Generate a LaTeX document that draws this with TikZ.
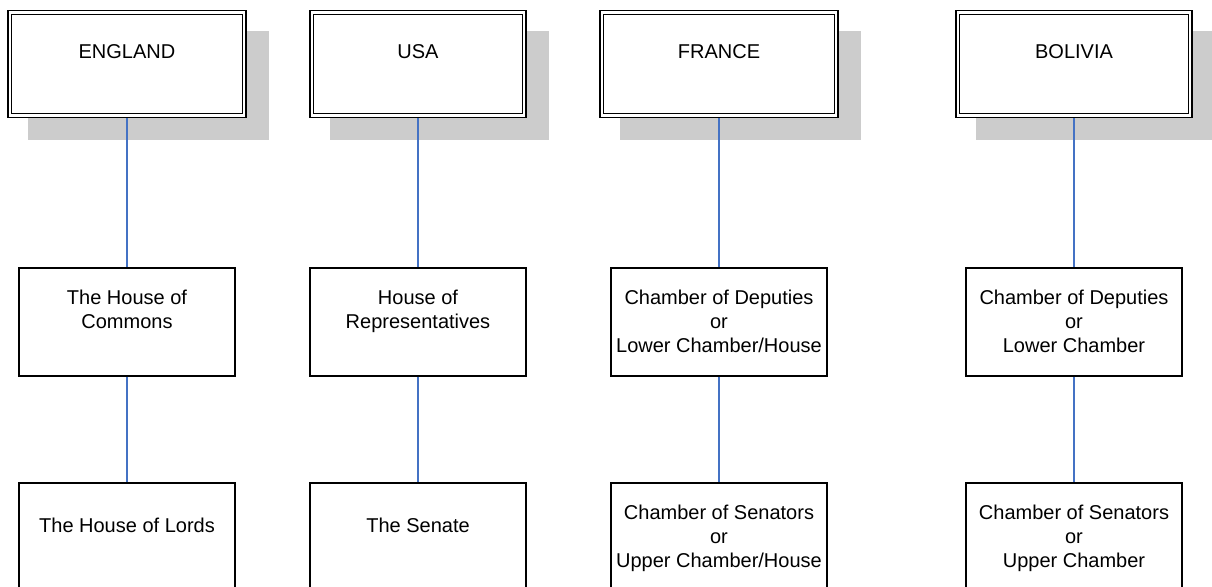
\documentclass[tikz,border=0pt]{standalone}
\usepackage{fontspec}
\setmainfont{Liberation Sans}
\usetikzlibrary{backgrounds}
\definecolor{shadowgray}{HTML}{CCCCCC}
\definecolor{connblue}{HTML}{4472C4}
\begin{document}
\begin{tikzpicture}[x=1pt,y=-1pt,
  countrybox/.style={draw=black, line width=1.8pt, fill=white, inner sep=0pt, minimum height=107pt},
  housebox/.style={draw=black, line width=1.2pt, fill=white, inner sep=0pt, minimum width=216pt, minimum height=108pt},
  txt/.style={font=\fontsize{20}{24}\selectfont, align=center, inner sep=0pt, anchor=north},
  conn/.style={draw=connblue, line width=1.3pt},
  innerline/.style={draw=black, line width=1.1pt},
  shade/.style={fill=shadowgray}]
\useasboundingbox (0,0) rectangle (1212,586);
\clip (0,0) rectangle (1212,586);

% country boxes
\node[countrybox, minimum width=238pt] (eng) at (127,64) {};
\node[countrybox, minimum width=216pt] (usa) at (418,64) {};
\node[countrybox, minimum width=238pt] (fra) at (719,64) {};
\node[countrybox, minimum width=236pt] (bol) at (1074,64) {};

\foreach \n in {eng,usa,fra,bol}{
  \draw[innerline] ([shift={(4.5,4.5)}]\n.north west) rectangle ([shift={(-4.5,-4.5)}]\n.south east);
}

\begin{scope}[on background layer]
\foreach \n in {eng,usa,fra,bol}{
  \fill[shade] ([shift={(21,21)}]\n.north west) rectangle ([shift={(22,22)}]\n.south east);
}
\end{scope}

\node[txt] (engt) at (127,44.7) {ENGLAND};
\node[txt] (usat) at (418,44.7) {USA};
\node[txt] (frat) at (719,44.7) {FRANCE};
\node[txt] (bolt) at (1074,44.7) {BOLIVIA};

% lower houses
\node[housebox] (engL) at (127,322) {};
\node[housebox] (usaL) at (418,322) {};
\node[housebox] (fraL) at (719,322) {};
\node[housebox] (bolL) at (1074,322) {};

\node[txt] (engLt) at (127,289.7) {The House of\\Commons};
\node[txt] (usaLt) at (418,289.7) {House of\\Representatives};
\node[txt] (fraLt) at (719,289.7) {Chamber of Deputies\\or\\Lower Chamber/House};
\node[txt] (bolLt) at (1074,289.7) {Chamber of Deputies\\or\\Lower Chamber};

% upper houses
\node[housebox] (engU) at (127,537) {};
\node[housebox] (usaU) at (418,537) {};
\node[housebox] (fraU) at (719,537) {};
\node[housebox] (bolU) at (1074,537) {};

\node[txt] (engUt) at (127,517.7) {The House of Lords};
\node[txt] (usaUt) at (418,517.7) {The Senate};
\node[txt] (fraUt) at (719,504.7) {Chamber of Senators\\or\\Upper Chamber/House};
\node[txt] (bolUt) at (1074,504.7) {Chamber of Senators\\or\\Upper Chamber};

% connectors
\draw[conn] (eng.south) -- (engL.north);
\draw[conn] (usa.south) -- (usaL.north);
\draw[conn] (fra.south) -- (fraL.north);
\draw[conn] (bol.south) -- (bolL.north);
\draw[conn] (engL.south) -- (engU.north);
\draw[conn] (usaL.south) -- (usaU.north);
\draw[conn] (fraL.south) -- (fraU.north);
\draw[conn] (bolL.south) -- (bolU.north);
\end{tikzpicture}
\end{document}
